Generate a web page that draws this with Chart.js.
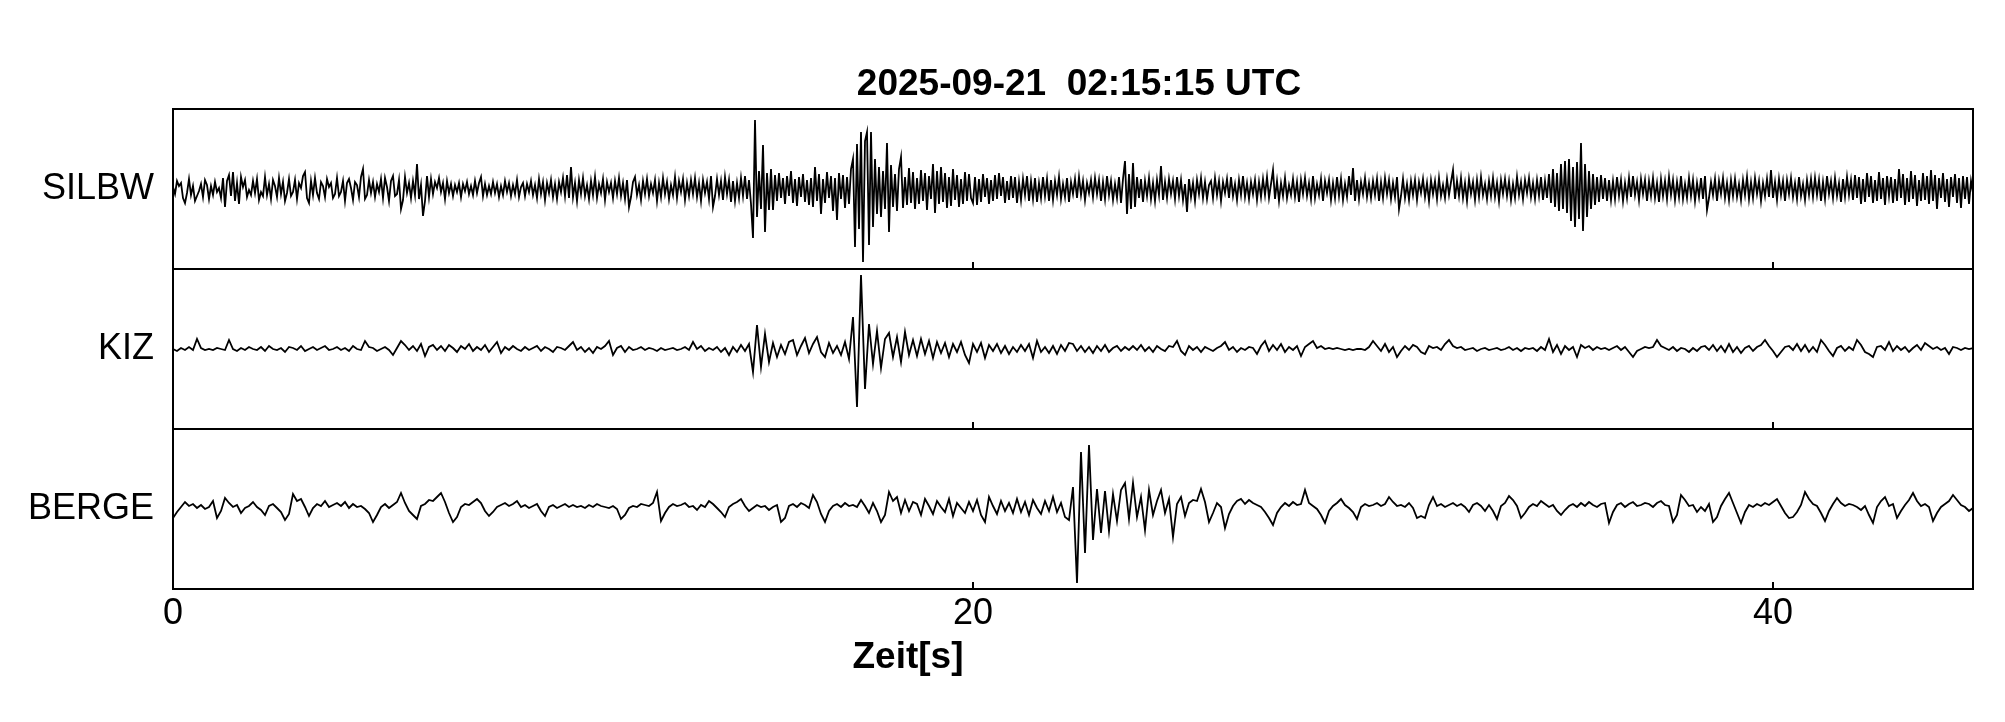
<!DOCTYPE html>
<html><head><meta charset="utf-8">
<script src="https://cdn.jsdelivr.net/npm/chart.js@4.4.0/dist/chart.umd.min.js"></script>
<style>html,body{margin:0;padding:0;background:#fff;}canvas{display:block;}</style>
</head><body>
<canvas id="c" width="2005" height="722"></canvas>
<script>
const TITLE = '2025-09-21  02:15:15 UTC';
const X_LABEL = 'Zeit[s]';
const STATIONS = ['SILBW', 'KIZ', 'BERGE'];
const X_TICKS = [0, 20, 40];
const X_MIN = 0, X_MAX = 45;
const Y_MIN = -80, Y_MAX = 80;
const DT_SILBW = 0.05, DT_KIZ = 0.1, DT_BERGE = 0.1;

const SILBW = [
2,-5,8,3,6,-9,-14,-4,10,-6,3,-12,-7,-2,5,-8,9,4,-10,3,
-6,7,-3,1,-9,11,-18,8,14,-7,17,-12,6,-15,12,2,9,-8,-1,-6,
8,-4,10,-11,-3,-7,12,-6,5,-10,9,3,-8,11,-5,7,-12,-4,10,-7,
-3,9,-10,6,1,13,17,-9,-14,8,-6,11,-4,-10,7,3,-8,10,2,6,
-9,-5,11,-7,-3,8,-12,6,10,1,-11,7,4,-8,12,20,-10,-6,9,-4,
7,-8,5,-3,10,-9,11,2,-12,8,13,-7,-5,9,-20,-11,12,-4,6,-9,
8,-6,25,-10,4,-27,-12,13,-8,10,-5,7,1,11,-3,6,-10,8,-4,5,
-7,4,-3,6,-8,5,-2,7,-5,3,-6,8,-4,6,12,-7,5,-6,3,-5,
7,-4,5,-8,3,-6,8,-3,6,-7,4,-5,9,-8,2,6,-7,5,-3,8,
-6,4,-9,10,-5,7,-11,6,-4,9,-8,5,-10,7,-3,11,-7,14,-9,22,
-8,6,-12,9,-5,11,-7,4,-10,8,-6,12,-9,5,-4,10,-11,7,-3,6,
-9,8,-5,11,-7,6,-10,9,-18,-8,7,12,-6,4,-11,8,-5,10,-7,5,
-4,9,-12,6,-8,11,-5,7,-10,4,-6,12,-9,8,-3,10,-11,6,-7,9,
-5,11,-8,6,-12,9,-4,7,-10,13,-18,-7,10,-6,8,-11,12,-5,9,-13,
8,-12,6,-9,11,-7,13,-10,9,-15,-49,69,-28,18,-20,44,-43,16,-21,20,
-21,14,-12,16,-9,11,-15,13,-7,18,-14,10,-17,12,-8,15,-13,9,-16,11,
-18,22,-12,15,-25,10,-14,17,-9,13,-22,11,-31,16,-10,14,-19,12,-15,20,
30,-58,45,-40,57,-73,48,57,-56,57,-38,30,-25,22,-28,18,-20,46,-43,24,
-18,15,-22,20,32,-19,12,-16,21,-14,17,-20,11,-15,19,-12,16,-21,13,-10,
25,-24,18,-15,22,-13,16,-19,12,-17,20,-11,14,-18,10,-15,17,-12,15,-9,
-14,12,-16,10,-13,15,-8,11,-15,9,-12,14,-10,16,-7,12,-14,8,-11,13,
-9,12,-14,7,-11,10,-6,13,-12,8,-10,11,-13,6,-9,12,-7,10,-12,9,
-11,8,-6,12,-10,5,-8,11,-13,7,-5,10,-9,12,-6,8,-11,6,-4,9,
-8,11,-5,9,-12,7,-10,13,-6,8,-11,5,-9,12,-14,10,28,-25,15,-20,
26,-18,12,-9,10,-13,8,-7,11,-10,6,-12,9,-6,23,-11,7,-9,10,-5,
8,-10,12,-7,9,-11,5,-23,10,-8,6,-12,9,-5,11,-9,7,-10,4,8,
-9,11,-6,8,-12,7,-4,10,-9,12,-7,5,-11,9,-6,13,-8,6,-10,7,
-5,9,-11,7,-8,10,-6,12,-9,5,19,-10,8,-12,6,-7,11,-9,4,-6,
10,-8,7,-13,9,-5,11,-7,6,-10,13,-9,5,-6,10,-12,8,-4,9,-11,
6,-9,12,-7,10,-11,5,-8,13,-6,21,-12,9,-10,7,-5,11,-8,6,-9,
8,-6,10,-12,7,-9,11,-5,9,-10,6,-8,12,-20,-7,10,-9,5,-11,8,
-6,9,-11,7,-4,10,-8,6,-12,9,-5,8,-10,11,-7,4,-9,10,-6,7,
19,-10,8,-7,11,-9,6,-12,10,-5,7,-11,9,-8,12,-6,5,-10,8,-7,
11,-8,6,-12,9,-5,10,-7,8,-11,5,-9,12,-6,7,-10,9,-4,11,-8,
6,-10,9,-7,12,-11,8,-9,15,-14,20,-18,16,-22,25,-20,28,-24,30,-32,
22,-38,27,-30,46,-42,25,-28,18,-20,15,-16,12,-13,14,-10,11,-12,9,-11,
8,-10,12,-7,9,-12,6,-9,11,-8,13,-6,7,-11,10,-5,9,-12,8,-7,
11,-9,6,-13,10,-7,8,-10,12,-6,9,-11,7,-8,13,-10,5,-9,11,-7,
9,-12,6,-8,11,-10,13,-21,-9,7,-6,10,-12,8,-5,11,-9,6,-11,9,
-7,10,-8,5,-11,9,-6,12,-10,7,-9,11,-5,8,-12,6,-7,10,-8,19,
-9,7,-11,10,-6,8,-12,9,-5,11,-8,6,-10,12,-7,5,-11,9,-6,10,
-8,11,-6,9,-12,7,-10,13,-5,8,-9,11,-7,6,-13,10,-8,12,-6,9,
-11,14,-9,12,-15,10,-13,16,-8,13,-14,9,-12,17,-10,11,-16,13,-7,12,
-14,10,-12,20,-9,15,-16,11,-13,18,-10,14,-17,9,-12,16,-11,13,-15,19,
-12,14,-20,11,-9,16,-13,10,-18,12,-8,15,-14,11,-19,13,-10,12,-15,8,
-4
];

const KIZ = [
0,-2,1,-1,2,-1,10,1,-1,0,
-1,1,0,-1,9,0,-2,1,-1,2,
0,-1,2,-2,3,0,-1,1,-3,2,
1,-1,3,-2,0,2,-1,1,3,-1,
0,2,-1,1,-2,3,0,-1,8,2,
1,-2,0,2,-1,-6,1,8,4,-1,
3,-2,5,-7,2,4,-1,3,-2,4,
1,-3,3,0,5,-2,2,-1,4,-3,
2,7,-4,2,-1,3,0,-2,2,-1,
1,3,-2,2,0,-3,2,1,-1,3,
7,-1,2,-3,1,-4,2,0,3,8,
-6,1,3,-3,2,-1,0,2,-1,1,
0,-2,1,-1,0,1,-1,0,2,-1,
7,0,3,-2,1,-1,2,-3,1,-6,
2,-3,4,-2,5,-23,24,-18,15,-13,
6,-8,4,-5,7,9,-6,3,11,-4,
5,12,-3,-8,6,-4,3,-6,7,-10,
32,-58,74,-40,25,-15,18,-19,10,16,
-8,12,-13,17,-6,9,-7,10,-5,8,
-9,7,-4,6,-8,5,-3,7,-6,-14,
5,-3,6,-9,4,-2,5,-4,3,-5,
2,-3,4,-2,5,-9,8,-3,2,-4,
3,-5,4,-2,6,5,-2,3,-3,2,
-4,3,-2,4,-3,1,3,-2,2,-1,
3,-1,4,-2,2,-3,3,0,-2,3,
2,8,-2,-6,3,-1,2,-3,2,0,
-2,1,3,7,-1,2,-3,1,-1,2,
1,-5,3,8,-2,4,-1,5,-3,2,
-1,3,-7,2,5,8,1,3,0,1,
0,1,0,-1,0,-1,0,0,-1,2,
8,3,-2,5,-3,2,-8,-2,3,-1,
4,2,-3,-5,3,1,2,-1,5,9,
3,1,2,-1,0,1,-2,0,1,-1,
0,1,-1,0,2,-1,1,-2,1,0,
1,-2,2,-1,10,-3,4,-5,3,-1,
2,-8,4,1,3,-1,2,0,1,-1,
1,3,-1,2,-3,-8,-2,0,2,1,
2,9,3,1,-1,2,-2,1,0,-3,
1,-2,2,3,-1,4,-2,3,-3,5,
-3,2,-4,1,3,-2,2,4,9,3,
-2,-8,-3,2,3,-1,5,-2,4,-3,
2,-3,9,4,-2,-7,1,3,-2,2,
-1,9,4,-3,-5,-8,2,3,-1,7,
-2,3,-1,2,-3,1,4,-1,6,3,
0,2,-1,1,-5,2,1,-1,1,0,
1
];

const BERGE = [
-9,-3,2,7,3,5,1,4,0,2,
8,-9,-2,11,6,2,4,-4,1,3,
7,2,-1,-6,3,5,1,-3,-11,-5,
15,8,10,2,-7,1,5,3,8,2,
4,6,3,7,1,5,2,3,0,-4,
-13,-6,2,5,1,4,7,16,6,-2,
-6,-10,3,5,9,8,12,16,7,-4,
-13,-8,2,5,4,7,10,6,-2,-7,
-3,2,4,6,3,5,8,2,4,1,
3,5,-2,-7,2,4,1,3,5,2,
4,2,3,1,4,2,5,3,2,1,
3,0,-10,-6,1,3,2,5,4,3,
6,17,-12,-4,2,5,3,4,6,2,
3,-1,4,2,8,5,1,-3,-8,2,
5,7,10,3,-2,1,4,2,3,-1,
2,4,-13,-9,3,5,2,6,4,1,
14,7,-5,-13,-2,3,5,2,6,3,
4,2,9,3,-4,6,-2,-13,-6,17,
8,12,-4,9,-2,7,5,-6,10,3,
-5,8,2,-3,10,-7,6,1,-4,7,
-2,9,-6,-13,12,3,-5,8,-2,6,
-4,10,-3,7,-6,9,1,-5,8,-2,
12,-3,6,-8,-11,22,-74,57,-44,64,
-31,20,-24,18,-22,15,-12,19,26,-10,
26,-8,12,-21,19,-6,8,19,-4,10,
-28,5,12,-7,6,9,8,20,7,-13,
-4,6,2,-19,-5,3,8,10,5,9,
6,4,2,-3,-9,-16,-4,2,6,3,
7,4,5,19,6,3,0,-6,-14,-2,
3,6,10,4,1,-3,-10,2,5,3,
4,6,3,5,12,7,3,4,2,6,
1,-9,-7,-9,4,12,3,5,2,4,
6,3,5,2,-3,4,6,3,-2,4,
-2,-10,3,6,13,9,3,-9,-4,2,
5,3,8,5,2,4,-2,-6,-1,3,
5,2,6,3,7,4,2,5,6,-14,
-3,4,6,2,5,7,3,4,6,5,
2,6,8,4,3,-13,-6,14,9,3,
4,-3,2,-2,5,-13,-8,3,10,16,
6,-4,-14,-3,4,2,5,3,6,4,
7,10,3,-4,-9,-8,-3,4,17,10,
5,3,-4,-12,-2,5,11,6,3,5,
4,2,-1,3,-6,-14,2,8,12,3,
5,-9,-2,4,9,16,8,3,5,2,
-12,-4,2,5,8,14,9,4,2,-2,
1
];

const TRACES = [
  { name: STATIONS[0], values: SILBW, dt: DT_SILBW, axis: 'ySILBW', weight: 3 },
  { name: STATIONS[1], values: KIZ, dt: DT_KIZ, axis: 'yKIZ', weight: 2 },
  { name: STATIONS[2], values: BERGE, dt: DT_BERGE, axis: 'yBERGE', weight: 1 }
];

const FONT = '"Liberation Sans", Arial, Helvetica, sans-serif';

function stationAxis(tr) {
  return {
    type: 'linear', min: Y_MIN, max: Y_MAX, position: 'left',
    stack: 'traces', stackWeight: 1, weight: tr.weight,
    afterBuildTicks: s => { s.ticks = [{ value: 0 }]; },
    afterFit: s => { s.width = 173; },
    grid: { display: false, drawTicks: false },
    border: { display: false },
    ticks: { callback: () => tr.name, color: '#000', padding: 19,
             font: { family: FONT, size: 36 } }
  };
}

const scales = {
  x: {
    type: 'linear', min: X_MIN, max: X_MAX, position: 'bottom',
    afterBuildTicks: s => { s.ticks = X_TICKS.map(v => ({ value: v })); },
    afterFit: s => { s.height = 133; },
    grid: { display: false, drawTicks: false },
    border: { display: false },
    ticks: { color: '#000', padding: 3, maxRotation: 0, autoSkip: false,
             font: { family: FONT, size: 36 } }
  }
};
TRACES.forEach(tr => { scales[tr.axis] = stationAxis(tr); });

const framePlugin = {
  id: 'frame',
  afterDraw(chart) {
    const { ctx, chartArea: a } = chart;
    const x = chart.scales.x;
    ctx.save();
    ctx.strokeStyle = '#000';
    ctx.lineWidth = 2;
    TRACES.forEach(tr => {
      const s = chart.scales[tr.axis];
      ctx.strokeRect(a.left, s.top, a.right - a.left, s.bottom - s.top);
      X_TICKS.forEach(v => {
        const px = x.getPixelForValue(v);
        ctx.beginPath();
        ctx.moveTo(px, s.bottom);
        ctx.lineTo(px, s.bottom - 7);
        ctx.stroke();
      });
    });
    ctx.fillStyle = '#000';
    ctx.textBaseline = 'alphabetic';
    ctx.textAlign = 'center';
    ctx.font = 'bold 37px ' + FONT;
    ctx.fillText(TITLE, 1079, 95);
    ctx.fillText(X_LABEL, 908, 668);
    ctx.restore();
  }
};

new Chart(document.getElementById('c'), {
  type: 'line',
  data: {
    datasets: TRACES.map(tr => ({
      label: tr.name,
      data: tr.values.map((v, i) => ({ x: i * tr.dt, y: v })),
      yAxisID: tr.axis,
      borderColor: '#000',
      borderWidth: 1.8,
      pointRadius: 0,
      fill: false,
      tension: 0
    }))
  },
  options: {
    responsive: false,
    animation: false,
    events: [],
    layout: { padding: { top: 109, right: 32, bottom: 0, left: 0 } },
    plugins: { legend: { display: false }, tooltip: { enabled: false }, title: { display: false } },
    scales: scales
  },
  plugins: [framePlugin]
});
</script>
</body></html>
